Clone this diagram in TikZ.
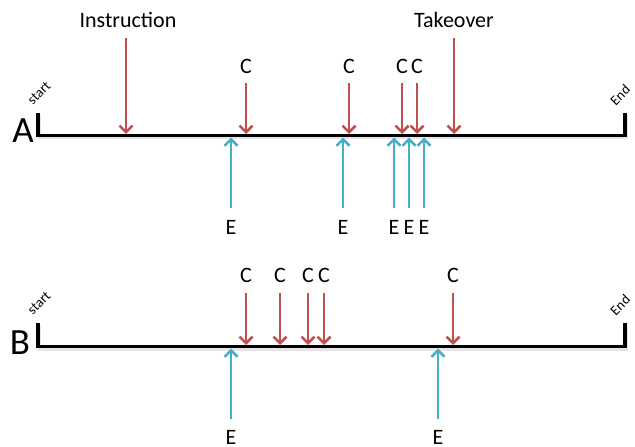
\documentclass[tikz,border=0pt]{standalone}
\usepackage{fontspec}
\setmainfont{Carlito}
\usetikzlibrary{arrows.meta}
\definecolor{cred}{HTML}{C0504D}
\definecolor{cblue}{HTML}{4BACC6}
\begin{document}
\begin{tikzpicture}[x=1bp,y=-1bp,
  axis/.style={line width=3.5bp, black, line join=miter},
  axisshadow/.style={line width=3bp, black!10, line join=miter},
  cevent/.style={draw=cred, line width=2.5bp, -{Straight Barb[length=6.5bp,width=13bp]}},
  eevent/.style={draw=cblue, line width=2.5bp, -{Straight Barb[length=6.5bp,width=13bp]}},
  lbl/.style={font=\fontsize{22bp}{26bp}\selectfont, inner sep=0pt, anchor=base},
  rowlbl/.style={font=\fontsize{37bp}{40bp}\selectfont, inner sep=0pt, anchor=base},
  endlbl/.style={font=\fontsize{14bp}{16bp}\selectfont, rotate=45, inner sep=0pt}]
\useasboundingbox (0,0) rectangle (635,447);

% ---------- timeline A ----------
\coordinate (As) at (38,113);
\coordinate (Asb) at (38,135.5);
\coordinate (Aeb) at (625,135.5);
\coordinate (Ae) at (625,113);
\draw[axisshadow] ([shift={(1.5,2.5)}]As) -- ([shift={(1.5,2.5)}]Asb) -- ([shift={(1.5,2.5)}]Aeb) -- ([shift={(1.5,2.5)}]Ae);
\draw[axis] (As) -- (Asb) -- (Aeb) -- (Ae);
\node[rowlbl] (Alabel) at (23,143) {A};
\node[endlbl] (Astart) at (39,93) {start};
\node[endlbl] (Aend) at (620,95) {End};

\node[lbl] (instr) at (128,28) {Instruction};
\node[lbl] (takeover) at (454,28) {Takeover};
\coordinate (instrT) at (126,38);  \coordinate (instrH) at (126,134);
\coordinate (takeT) at (454,38);   \coordinate (takeH) at (454,134);
\draw[cevent] (instrT) -- (instrH);
\draw[cevent] (takeT) -- (takeH);

\foreach \x [count=\i] in {246,349,402,417}{
  \node[lbl] (Ac\i) at (\x,74) {C};
  \coordinate (AcT\i) at (\x,83);
  \coordinate (AcH\i) at (\x,134);
  \draw[cevent] (AcT\i) -- (AcH\i);
}
\foreach \x [count=\i] in {231,343,394,409,424}{
  \node[lbl] (Ae\i) at (\x,235) {E};
  \coordinate (AeT\i) at (\x,208);
  \coordinate (AeH\i) at (\x,137.5);
  \draw[eevent] (AeT\i) -- (AeH\i);
}

% ---------- timeline B ----------
\coordinate (Bs) at (38,323);
\coordinate (Bsb) at (38,346.5);
\coordinate (Beb) at (625,346.5);
\coordinate (Be) at (625,323);
\draw[axisshadow] ([shift={(1.5,2.5)}]Bs) -- ([shift={(1.5,2.5)}]Bsb) -- ([shift={(1.5,2.5)}]Beb) -- ([shift={(1.5,2.5)}]Be);
\draw[axis] (Bs) -- (Bsb) -- (Beb) -- (Be);
\node[rowlbl] (Blabel) at (20,354) {B};
\node[endlbl] (Bstart) at (39,303) {start};
\node[endlbl] (Bend) at (620,305) {End};

\foreach \x [count=\i] in {246,280,308,324,453}{
  \node[lbl] (Bc\i) at (\x,283) {C};
  \coordinate (BcT\i) at (\x,293);
  \coordinate (BcH\i) at (\x,345);
  \draw[cevent] (BcT\i) -- (BcH\i);
}
\foreach \x [count=\i] in {231,438}{
  \node[lbl] (Be\i) at (\x,444) {E};
  \coordinate (BeT\i) at (\x,419);
  \coordinate (BeH\i) at (\x,348.5);
  \draw[eevent] (BeT\i) -- (BeH\i);
}
\end{tikzpicture}
\end{document}
